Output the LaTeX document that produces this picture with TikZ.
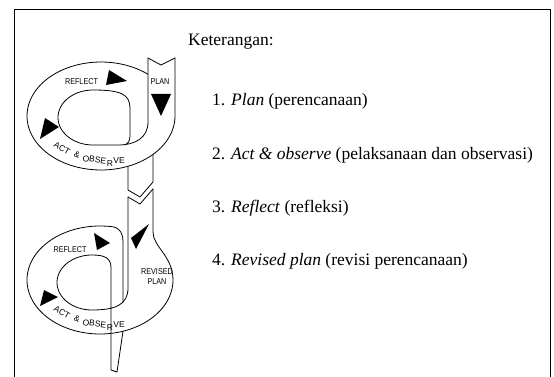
\documentclass[tikz,border=0pt]{standalone}
\usepackage{fontspec}
\setmainfont{Liberation Serif}
\newfontfamily\labelfont{Liberation Sans}

\begin{document}
\begin{tikzpicture}[x=1pt,y=-1pt,
  band/.style={line width=0.8pt, line join=round, line cap=round},
  tip/.style={fill=black},
  lbl/.style={font=\labelfont\fontsize{8.5}{10}\selectfont, inner sep=0pt},
  item/.style={anchor=base west, inner sep=0pt, font=\fontsize{17.5}{21}\selectfont}
]
\useasboundingbox (0,0) rectangle (554,377);

% frame
\draw[line width=1pt] (14,377) -- (14,9.5) -- (550,9.5) -- (550,377);

% ---------- first cycle ----------
% outer edge: PLAN column, round the bottom and the left, over the top
\draw[band] (175,58) -- plot[domain=0:309.4,samples=90]
  ({101+74*cos(\x)},{116+54*sin(\x)});
% notch at the top of the PLAN column
\draw[band] (148,58) -- (161,65) -- (175,58);
% inner edge: PLAN column, inner loop, REFLECT turning down
\draw[band] (148,58) -- (148,122) .. controls (148,138) and (135,145) .. (118,145)
  -- (93,145)
  -- plot[domain=90:270,samples=50] ({93+35*cos(\x)},{117.5+27.5*sin(\x)})
  .. controls (120,90) and (130,94) .. (130,108) -- (130,136)
  .. controls (130,141) and (128,144) .. (124,145);
% strip leaving the first cycle, pointed end
\draw[band] (128,166.3) -- (128,190) -- (140,197) -- (153,182) -- (153,154.4);

\fill[tip] (109,70) -- (127,81) -- (106,85) -- cycle;
\fill[tip] (151,94) -- (171,94) -- (161,116) -- cycle;
\fill[tip] (45,118) -- (59,127) -- (40,139) -- cycle;

\node[lbl] (reflect1) at (81.5,81.5) {\scalebox{.85}[1]{REFLECT}};
\node[lbl] (plan1) at (160,82) {\scalebox{.85}[1]{PLAN}};

% ---------- second cycle ----------
% notch at the top of the REVISED PLAN strip
\draw[band] (128,197) -- (140,204) -- (153,189);
% outer edge
\draw[band] (153,189) -- (153,232) .. controls (153,247) and (173,256) .. (173,280)
  -- plot[domain=0:276,samples=90] ({100+73*cos(\x)},{280+54*sin(\x)})
  .. controls (117,226.3) and (123,230) .. (123,242) -- (123,302);
% inner edge and the strip running out below
\draw[band] (128,197) -- (128,288) .. controls (128,305) and (115,310) .. (92,310)
  -- plot[domain=90:270,samples=50] ({92+35*cos(\x)},{282.5+27.5*sin(\x)})
  .. controls (105,255) and (111,258) .. (111,268) -- (111,370) -- (117,372) -- (123,331.2);

\fill[tip] (94,233) -- (110,243) -- (97,250) -- cycle;
\fill[tip] (149,224) -- (136,249) -- (131,238) -- cycle;
\fill[tip] (44,290) -- (58,297) -- (40,306) -- cycle;

\node[lbl] (reflect2) at (70,249.5) {\scalebox{.85}[1]{REFLECT}};
\node[lbl, align=center] (revised) at (157,277)
  {\scalebox{.85}[1]{REVISED}\\\scalebox{.85}[1]{PLAN}};

% ACT & OBSERVE round the bottom of each cycle
\foreach \dy/\k in {0/1,164/2}
  \foreach \w/\px/\py/\r [count=\i] in {ACT/62/148/-30, \&/77/155/-20,
      OBSE/94.5/159.8/-8, R/110/163.5/0, VE/119/160.5/0}
    \node[lbl, rotate=\r] (act\k-\i) at (\px,\py+\dy) {\w};

% ---------- legend ----------
\node[item] (ket) at (188,46) {Keterangan:};
\node[item] (n1) at (212,106) {1.};
\node[item] (t1) at (231,106) {\textit{Plan} (perencanaan)};
\node[item] (n2) at (212,159) {2.};
\node[item] (t2) at (231,159) {\textit{Act \& observe} (pelaksanaan dan observasi)};
\node[item] (n3) at (212,212) {3.};
\node[item] (t3) at (231,212) {\textit{Reflect} (refleksi)};
\node[item] (n4) at (212,265) {4.};
\node[item] (t4) at (231,265) {\textit{Revised plan} (revisi perencanaan)};
\end{tikzpicture}
\end{document}
